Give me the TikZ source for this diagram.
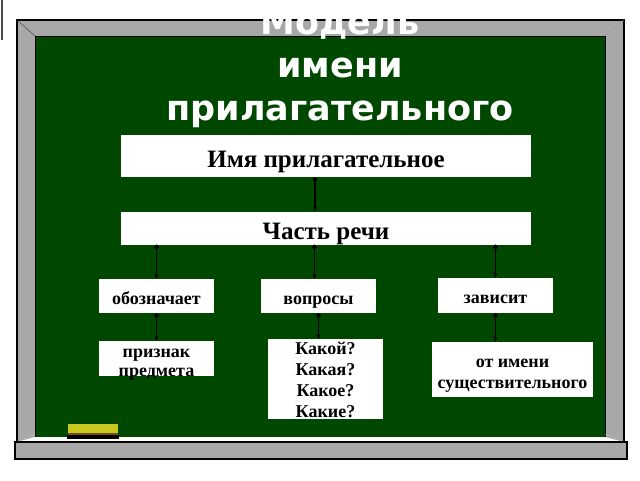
\documentclass[tikz,border=0pt]{standalone}
\usepackage{fontspec}
\setmainfont{Liberation Serif}
\newfontfamily\titlefont{DejaVu Sans}
\usetikzlibrary{arrows.meta}

\definecolor{board}{RGB}{0,72,0}
\definecolor{frame}{RGB}{168,168,168}
\definecolor{sponge}{RGB}{200,200,30}

\tikzset{
  card/.style={fill=white, inner sep=0pt, align=center},
  big/.style={font=\bfseries\fontsize{25}{27}\selectfont, text height=22pt, text depth=0pt},
  mid/.style={font=\bfseries\fontsize{18}{20}\selectfont, text height=16pt, text depth=0pt},
  link/.style={line width=1.1pt, {Circle[length=5pt]}-{Stealth[length=5pt,width=4.5pt]}}
}

\begin{document}
\begin{tikzpicture}[x=1pt,y=-1pt]
  \useasboundingbox (0,0) rectangle (640,480);
  % Draw the blackboard
  \draw[line width=2pt, black!70] (1.5,0) -- (1.5,40);
  \filldraw[fill=frame, draw=black, line width=1.2pt] (17,20) rectangle (624,442);
  \filldraw[fill=board, draw=black, line width=0.8pt] (35,36) rectangle (605,437);
  \draw[black!80] (17,20) -- (35,36);
  \draw[black!40] (624,20) -- (605,36);
  \fill[white] (17,442) -- (35,437) -- (605,437) -- (624,442) -- cycle;
  \draw[black!25] (17,442) -- (35,434);
  \draw[black!25] (624,442) -- (605,434);
  \filldraw[fill=frame, draw=black, line width=1.2pt] (15,442) rectangle (627,459);
  \fill[sponge] (68,424) rectangle (118,433);
  \fill[brown!60!black] (68,433) rectangle (118,434.5);
  \fill[black] (67,434.5) rectangle (119,439);
  \node[font=\titlefont\bfseries\fontsize{35}{43}\selectfont, text=white, align=center, anchor=base] (title) at (340.00,120.00) {Модель\\имени\\прилагательного};

  \node[card, big, minimum width=410, minimum height=42] (name) at (326.00,156.00) {Имя прилагательное};
  \node[card, big, minimum width=410, minimum height=33] (part) at (326.00,228.00) {Часть речи};
  \node[card, mid, minimum width=115, minimum height=34] (means) at (156.50,296.00) {обозначает};
  \node[card, mid, minimum width=115, minimum height=34] (asks) at (318.50,296.00) {вопросы};
  \node[card, mid, minimum width=115, minimum height=35] (links) at (495.50,295.50) {зависит};
  \node[card, font=\bfseries\fontsize{18}{19}\selectfont, text height=35pt, text depth=0pt, minimum width=115, minimum height=35] (sign) at (156.50,358.50) {признак\\предмета};
  \node[card, font=\bfseries\fontsize{18}{20.7}\selectfont, text height=76pt, text depth=0pt, minimum width=115, minimum height=80] (forms) at (325.50,379.00) {Какой?\\Какая?\\Какое?\\Какие?};
  \node[card, font=\bfseries\fontsize{18}{21}\selectfont, text height=37pt, text depth=0pt, minimum width=161, minimum height=55] (noun) at (512.50,369.50) {от имени\\существительного};

  % Draw the links
  \draw[link] ([xshift=-11pt]name.south) -- ([xshift=-11pt]part.north);
  \draw[link] (part.south -| means) -- (means);
  \draw[link] ([xshift=-4pt]part.south -| asks) -- ([xshift=-4pt]asks.north);
  \draw[link] (part.south -| links) -- (links);
  \draw[link] (means) -- (sign);
  \draw[link] (asks.south) -- (asks.south |- forms.north);
  \draw[link] (links.south) -- (links.south |- noun.north);
\end{tikzpicture}
\end{document}
